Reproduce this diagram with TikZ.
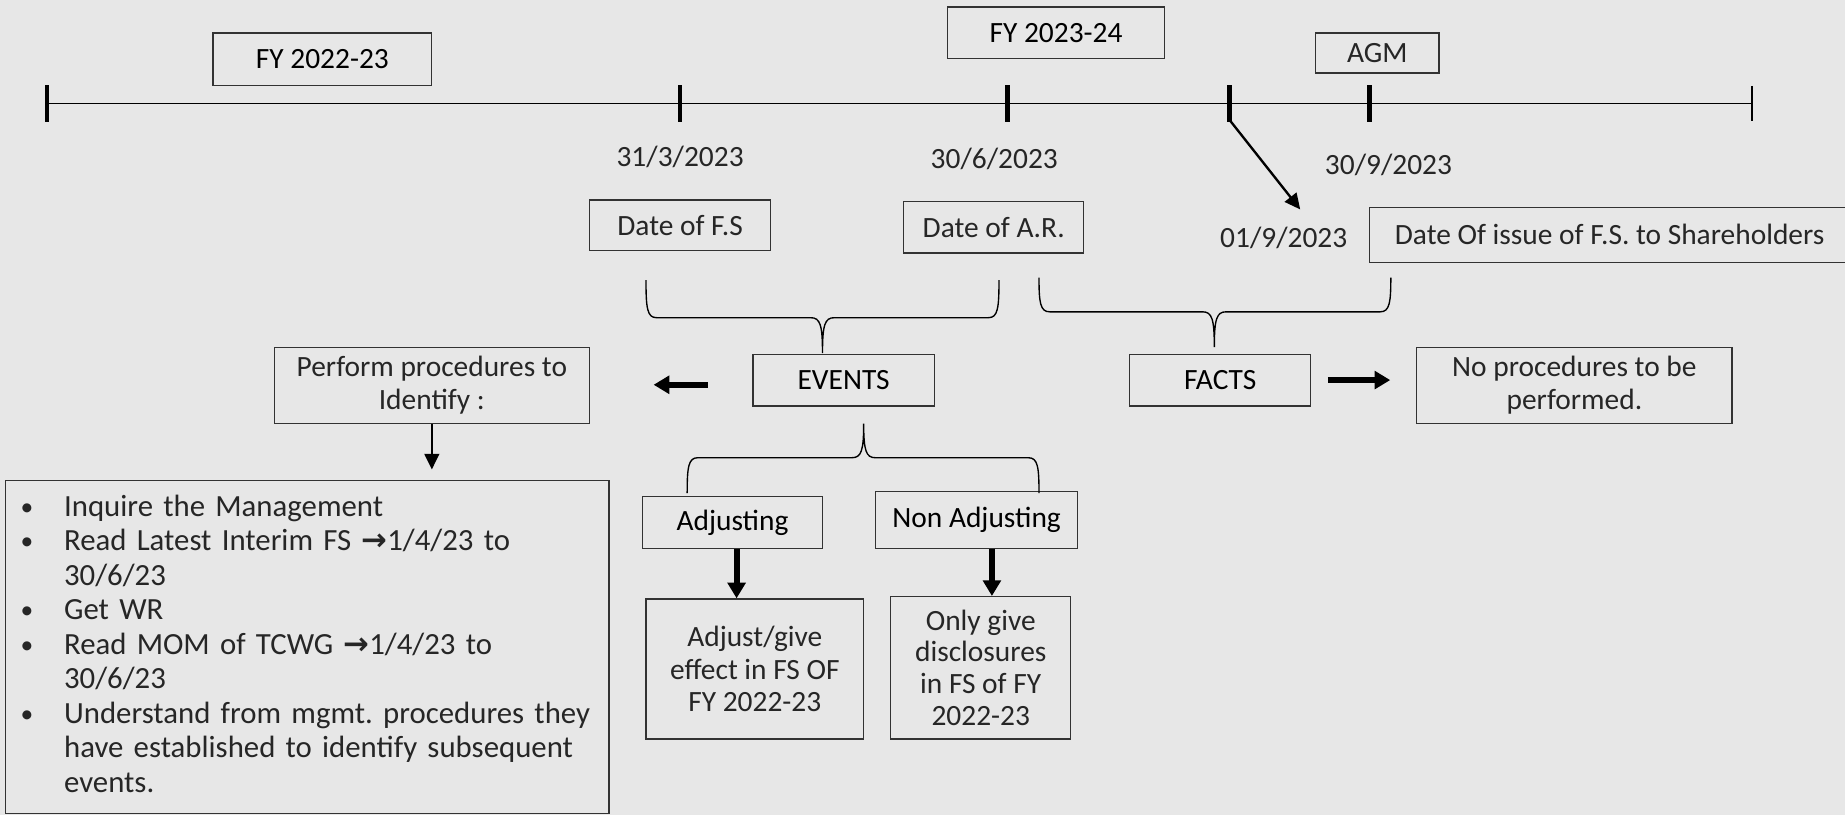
\documentclass[tikz,border=0pt]{standalone}
\usepackage{fontspec}
\setmainfont{Carlito}
\newfontfamily\arrowfont{DejaVu Sans}
\usetikzlibrary{arrows.meta,positioning}
\definecolor{slide}{HTML}{E7E7E7}
\frenchspacing
\newcommand{\dotmark}{\raisebox{0.5pt}{\fontsize{13}{13}\selectfont\textbullet}}

\begin{document}
\begin{tikzpicture}[x=0.6pt,y=-0.6pt]
\tikzstyle{block} = [draw=black!80,line width=0.6pt,align=center,inner sep=0pt,text=black!85,font=\fontsize{15}{16.8}\selectfont]
\tikzstyle{title} = [block,text=black]
\tikzstyle{date} = [text=black!85,font=\fontsize{15}{18}\selectfont]
\tikzstyle{tick} = [line width=2.4pt]
\tikzstyle{brace} = [line width=0.7pt]
\tikzstyle{fat} = [line width=3pt,-{Triangle[length=8pt,width=9pt]}]
\tikzstyle{thin} = [line width=1.2pt,-{Triangle[length=8pt,width=7.5pt]}]
    \useasboundingbox[fill=slide] (0,0) rectangle (1568,693);
    \coordinate (Start) at (40,88);
    \coordinate (YearEnd) at (578,88);
    \coordinate (Approval) at (856,88);
    \coordinate (Issue) at (1045,88);
    \coordinate (Meeting) at (1164,88);
    \coordinate (End) at (1489,88);

    \node[title,minimum width=111.6pt,minimum height=27pt] (OldYear) at (274,50.5) {FY 2022-23};
    \node[title,minimum width=111pt,minimum height=26.4pt] (NewYear) at (897.5,28) {FY 2023-24};
    \node[block,minimum width=63pt,minimum height=20.4pt] (AGM) at (1170.5,45) {AGM};

    \node[date] (YearEndDate) at (578,133) {31/3/2023};
    \node[date] (ApprovalDate) at (845,135) {30/6/2023};
    \node[date] (MeetingDate) at (1180,140) {30/9/2023};
    \node[date] (IssueDate) at (1091,202) {01/9/2023};
    \coordinate (IssueTip) at (1105,178);

    \node[block,minimum width=92.4pt,minimum height=25.8pt] (FS) at (578,191.5) {Date of F.S};
    \node[block,minimum width=91.8pt,minimum height=26.4pt] (AR) at (844.5,193) {Date of A.R.};
    \node[block,minimum width=244.8pt,minimum height=28.2pt] (Shareholders) at (1368,199.5) {Date Of issue of F.S. to Shareholders};

    \node[title,minimum width=92.4pt,minimum height=26.4pt] (Events) at (717,323) {EVENTS};
    \node[title,minimum width=92.4pt,minimum height=26.4pt] (Facts) at (1037,323) {FACTS};
    \node[block,minimum width=160.8pt,minimum height=39pt] (Perform) at (367,327.5) {Perform procedures to\\Identify :};
    \node[block,minimum width=160.8pt,minimum height=39pt] (NoProc) at (1338,327.5) {No procedures to be\\performed.};
    \node[block,anchor=north west,text width=292.2pt,inner xsep=7.8pt,minimum height=169.8pt,align=left,font=\fontsize{15.7}{17.6}\selectfont] (Steps) at (4,408) {%
      \begin{tabular}{@{}p{22.2pt}@{}l@{}}
      \dotmark & Inquire the Management\\
      \dotmark & Read Latest Interim FS {\arrowfont\bfseries →}1/4/23 to\\
               & 30/6/23\\
      \dotmark & Get WR\\
      \dotmark & Read MOM of TCWG {\arrowfont\bfseries →}1/4/23 to\\
               & 30/6/23\\
      \dotmark & Understand from mgmt. procedures they\\
               & have established to identify subsequent\\
               & events.
      \end{tabular}};

    \node[title,minimum width=91.8pt,minimum height=26.4pt] (Adj) at (622.5,444) {Adjusting};
    \node[title,minimum width=103.2pt,minimum height=28.8pt] (NonAdj) at (830,442) {Non Adjusting};
    \node[block,minimum width=111pt,minimum height=71.4pt] (AdjOut) at (641.5,568.5) {Adjust/give\\effect in FS OF\\FY 2022-23};
    \node[block,minimum width=91.8pt,minimum height=72.6pt,font=\fontsize{15}{16.2}\selectfont] (NonAdjOut) at (833.5,567.5) {Only give\\disclosures\\in FS of FY\\2022-23};

    \draw[line width=0.8pt] (Start) -- (End);
    \draw[tick] ([yshift=9.3pt]Start) -- ([yshift=-9.3pt]Start);
    \draw[tick] ([yshift=9.3pt]YearEnd) -- ([yshift=-9.3pt]YearEnd);
    \draw[tick] ([yshift=9.3pt]Approval) -- ([yshift=-9.3pt]Approval);
    \draw[tick] ([yshift=9.3pt]Issue) -- ([yshift=-9.3pt]Issue);
    \draw[tick] ([yshift=9.3pt]Meeting) -- ([yshift=-9.3pt]Meeting);
    \draw[line width=0.8pt] ([yshift=9pt]End) -- ([yshift=-9pt]End);
    \draw[thin] ([yshift=-8.4pt]Issue) -- (IssueTip);

    \draw[brace] (549,238) .. controls (549,262) and (550,270) .. (558,270) -- (689,270)
        .. controls (697,270) and (699,276) .. (699,300)
        .. controls (699,276) and (701,270) .. (709,270) -- (840,270)
        .. controls (848,270) and (849,262) .. (849,238);
    \draw[brace] (883,236) .. controls (883,257) and (884,265) .. (892,265) -- (1022,265)
        .. controls (1030,265) and (1032,271) .. (1032,295)
        .. controls (1032,271) and (1034,265) .. (1042,265) -- (1173,265)
        .. controls (1181,265) and (1182,257) .. (1182,236);
    \draw[brace] (584,419) .. controls (584,397) and (585,389) .. (593,389) -- (724,389)
        .. controls (732,389) and (734,383) .. (734,360)
        .. controls (734,383) and (736,389) .. (744,389) -- (874,389)
        .. controls (882,389) and (883,397) .. (883,419);

    \draw[fat,shorten <=22.8pt,shorten >=32.4pt] ([yshift=-2.4pt]Events.west) -- ([yshift=-2.4pt]Events.west -| Perform.east);
    \draw[fat,shorten <=8.4pt,shorten >=13.2pt] (Facts.east) -- (Facts.east -| NoProc.west);
    \draw[thin,shorten >=5.4pt] (Perform.south) -- (Perform.south |- Steps.north);
    \draw[fat] ([xshift=2.1pt]Adj.south) -- ([xshift=2.1pt]Adj.south |- AdjOut.north);
    \draw[fat] ([xshift=7.8pt]NonAdj.south) -- ([xshift=7.8pt]NonAdj.south |- NonAdjOut.north);
\end{tikzpicture}
\end{document}
